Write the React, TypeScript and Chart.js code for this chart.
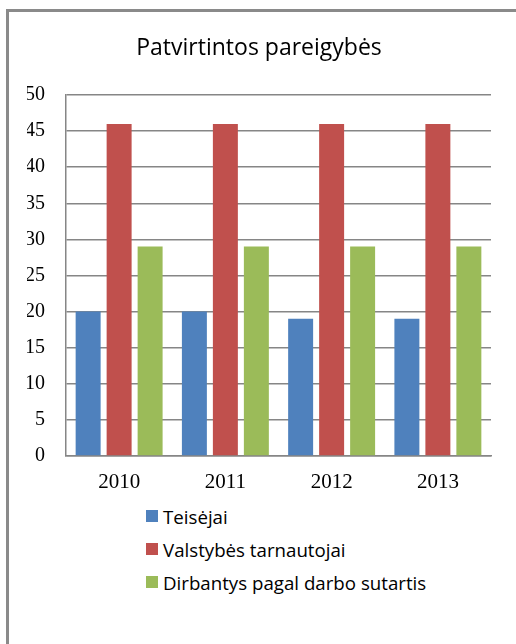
import React, { useEffect, useRef } from "react";
import { Chart, registerables } from "chart.js";

Chart.register(...registerables);

const categories = ["2010", "2011", "2012", "2013"];
const seriesNames = ["Teisėjai", "Valstybės tarnautojai", "Dirbantys pagal darbo sutartis"];
const teisejai = [20, 20, 19, 19];
const valstybesTarnautojai = [46, 46, 46, 46];
const dirbantys = [29, 29, 29, 29];
const seriesValues = [teisejai, valstybesTarnautojai, dirbantys];
const colors = ["#4F81BD", "#C0504D", "#9BBB59"];
const titleText = "Patvirtintos pareigybės";

const GRID = "#868686";

export default function App() {
  const ref = useRef<HTMLCanvasElement | null>(null);

  useEffect(() => {
    if (!ref.current) return;
    const chart = new Chart(ref.current, {
      type: "bar",
      data: {
        labels: categories,
        datasets: seriesValues.map((vals, i) => ({
          label: seriesNames[i],
          data: vals,
          backgroundColor: colors[i],
          borderWidth: 0,
          categoryPercentage: 0.875,
          barPercentage: 0.806,
        })),
      },
      options: {
        animation: false,
        responsive: false,
        maintainAspectRatio: false,
        layout: { padding: { left: 27, right: 25, top: 0, bottom: 0 } },
        plugins: {
          legend: { display: false },
          tooltip: { enabled: false },
          title: {
            display: true,
            text: titleText,
            color: "#000",
            font: { family: "Open Sans", size: 23, weight: "normal", lineHeight: 1.2 },
            padding: { top: 34.2, bottom: 33.2 },
          },
        },
        scales: {
          x: {
            afterFit: (s: any) => {
              s.height = 44;
            },
            grid: { display: true, color: "transparent", drawTicks: false },
            border: { display: true, color: GRID, width: 1.5 },
            ticks: {
              color: "#000",
              padding: 14,
              font: { family: "Liberation Serif", size: 21, lineHeight: 1.2 },
            },
          },
          y: {
            min: 0,
            max: 50,
            afterFit: (s: any) => {
              s.width = 39;
            },
            grid: { color: GRID, lineWidth: 1.5, drawTicks: false },
            border: { display: true, color: GRID, width: 1.5 },
            ticks: {
              stepSize: 5,
              color: "#000",
              padding: 21,
              font: { family: "Liberation Serif", size: 20 },
            },
          },
        },
      },
    });
    return () => chart.destroy();
  }, []);

  const legendTops = [516, 549, 582];

  return (
    <div
      style={{
        position: "absolute",
        left: 0,
        top: 0,
        width: 516,
        height: 644,
        overflow: "hidden",
        background: "#fff",
      }}
    >
      <div
        style={{
          position: "absolute",
          left: 6,
          top: 9,
          width: 530,
          height: 660,
          border: "3px solid #8a8a8a",
          boxSizing: "border-box",
        }}
      />
      <canvas
        ref={ref}
        width={516}
        height={500}
        style={{ position: "absolute", left: 0, top: 0, width: 516, height: 500 }}
      />
      {seriesNames.map((name, i) => (
        <div
          key={name}
          style={{
            position: "absolute",
            left: 146,
            top: legendTops[i] - 12,
            height: 24,
            display: "flex",
            alignItems: "center",
            fontFamily: "Open Sans",
            fontSize: 18.7,
            color: "#000",
            whiteSpace: "nowrap",
          }}
        >
          <span
            style={{
              display: "inline-block",
              width: 12,
              height: 12,
              background: colors[i],
              marginRight: 5,
            }}
          />
          <span>{name}</span>
        </div>
      ))}
    </div>
  );
}
